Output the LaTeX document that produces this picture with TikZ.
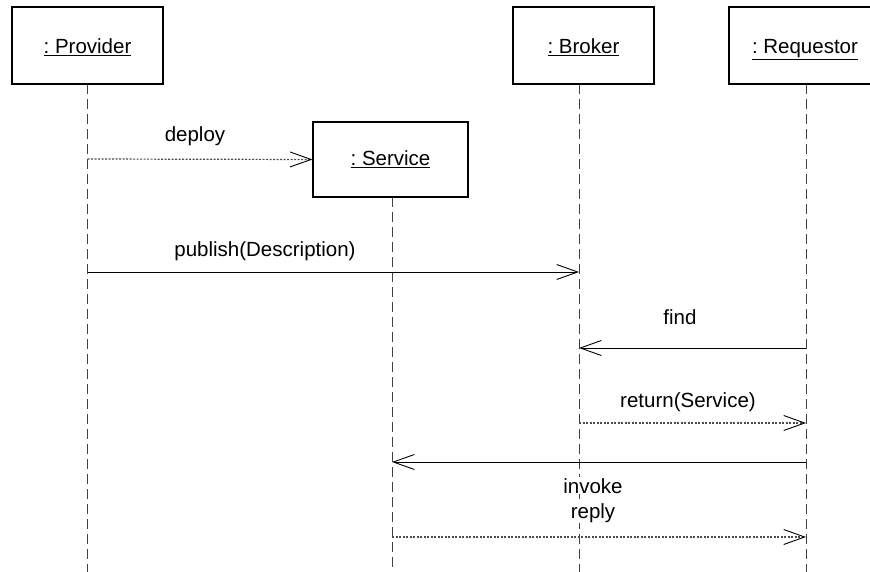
\documentclass[tikz,border=0pt]{standalone}
\usepackage{fontspec}
\setmainfont{Liberation Sans}
\usetikzlibrary{arrows.meta}

\begin{document}
\frenchspacing
\begin{tikzpicture}[x=1pt,y=-1pt,
  font=\fontsize{20.5}{24}\selectfont\frenchspacing,
  object/.style={draw=black, line width=1.2pt, fill=white, rectangle, inner sep=0pt},
  objlabel/.style={anchor=base, inner sep=0pt},
  lifeline/.style={draw=black!75, line width=0.9pt, dash pattern=on 10pt off 5pt},
  call/.style={draw=black, line width=0.9pt, -{Straight Barb[length=21pt,width=15pt,line width=0.9pt]}},
  answer/.style={draw=black!70, line width=1.2pt, dash pattern=on 2pt off 1.5pt,
    -{Straight Barb[length=21pt,width=15pt,line width=0.9pt,black]}},
  msg/.style={fill=white, inner sep=1pt, anchor=base}]
\useasboundingbox (0,0) rectangle (870,572);

% lifeline tops and ends
\coordinate (pTop) at (87.5,84);   \coordinate (pEnd) at (87.5,572);
\coordinate (sTop) at (392,197);   \coordinate (sEnd) at (392,572);
\coordinate (bTop) at (579,84);    \coordinate (bEnd) at (579,572);
\coordinate (rTop) at (806,84);    \coordinate (rEnd) at (806,572);

\draw[lifeline] (pTop) -- (pEnd);
\draw[lifeline] (sTop) -- (sEnd);
\draw[lifeline] (bTop) -- (bEnd);
\draw[lifeline] (rTop) -- (rEnd);

% objects
\node[object, minimum width=151pt, minimum height=77pt] (prov) at (87.5,45.5) {};
\node[object, minimum width=155pt, minimum height=75pt] (serv) at (390.5,159.5) {};
\node[object, minimum width=141pt, minimum height=77pt] (brok) at (583.5,45.5) {};
\begin{scope}
  \clip (0,0) rectangle (870,572);
  \node[object, minimum width=154pt, minimum height=77pt] (req) at (806,45.5) {};
\end{scope}
\node[objlabel] (provT) at (87.5,54)  {\underline{: Provider}};
\node[objlabel] (servT) at (390.5,166) {\underline{: Service}};
\node[objlabel] (brokT) at (583.5,54) {\underline{: Broker}};
\node[objlabel] (reqT)  at (805,54)   {\underline{: Requestor}};

% message anchors on the lifelines
\coordinate (pDeploy)  at (87.5,159);
\coordinate (pPub)     at (87.5,272);
\coordinate (bPub)     at (579,272);
\coordinate (rFind)    at (806,348);
\coordinate (bFind)    at (579,348);
\coordinate (bRet)     at (579,423);
\coordinate (rRet)     at (806,423);
\coordinate (rInv)     at (806,462);
\coordinate (sInv)     at (392,462);
\coordinate (sRep)     at (392,537);
\coordinate (rRep)     at (806,537);

% messages
\draw[answer] (pDeploy) -- (serv.west);
\draw[call]   (pPub) -- (bPub);
\draw[call]   (rFind) -- (bFind);
\draw[answer] (bRet) -- (rRet);
\draw[call]   (rInv) -- (sInv);
\draw[answer] (sRep) -- (rRep);

% message labels
\node[msg] (lDeploy) at (195,142) {deploy};
\node[msg] (lPub)    at (265,256) {publish(Description)};
\node[msg] (lFind)   at (680,324) {find};
\node[msg] (lRet)    at (688,407) {return(Service)};
\node[msg] (lInv)    at (593,493) {invoke};
\node[msg] (lRep)    at (593,518) {reply};
\end{tikzpicture}
\end{document}
